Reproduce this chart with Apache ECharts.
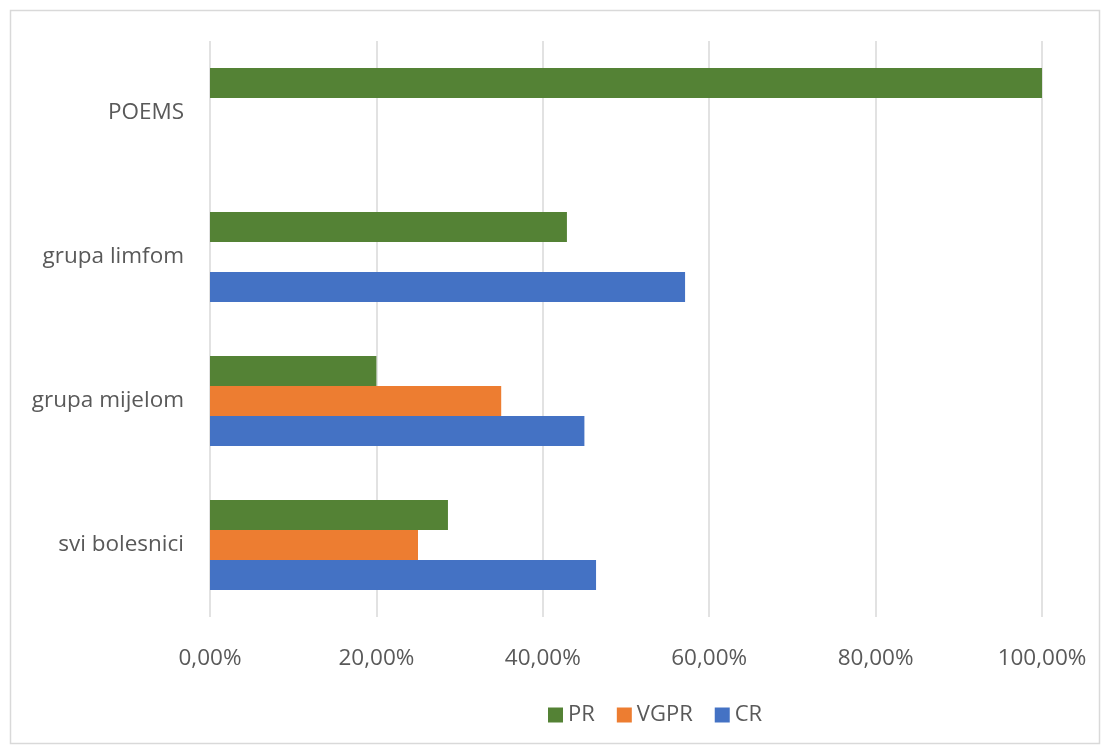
<!DOCTYPE html>
<html>
<head>
<meta charset="utf-8">
<script src="https://cdn.jsdelivr.net/npm/echarts@6/dist/echarts.min.js"></script>
<style>html,body{margin:0;padding:0;background:#fff;}#c{width:1105px;height:749px;}</style>
</head>
<body>
<div id="c"></div>
<script>
const categories = ['svi bolesnici', 'grupa mijelom', 'grupa limfom', 'POEMS'];
const seriesNames = ['PR', 'VGPR', 'CR'];
const prValues = [28.6, 20.0, 42.9, 100.0];
const vgprValues = [25.0, 35.0, null, null];
const crValues = [46.4, 45.0, 57.1, null];
const xTicks = [0, 20, 40, 60, 80, 100];

const chart = echarts.init(document.getElementById('c'));
const font = '"Open Sans", "Noto Sans", sans-serif';
const colors = { PR: '#548235', VGPR: '#ED7D31', CR: '#4472C4' };
const valuesBy = { PR: prValues, VGPR: vgprValues, CR: crValues };

chart.setOption({
  animation: false,
  textStyle: { fontFamily: font },
  graphic: [{
    type: 'rect', left: 8, top: 8,
    shape: { width: 1089, height: 733 },
    style: { fill: 'none', stroke: '#d9d9d9', lineWidth: 1.5 }
  }],
  grid: { left: 210, right: 63, top: 41, bottom: 132, containLabel: false },
  legend: {
    data: seriesNames,
    top: 699, left: 543,
    itemWidth: 15, itemHeight: 15, itemGap: 22,
    icon: 'rect',
    textStyle: { color: '#595959', fontSize: 22, fontFamily: font }
  },
  xAxis: {
    type: 'value', min: xTicks[0], max: xTicks[xTicks.length - 1], interval: 20,
    axisLine: { show: false }, axisTick: { show: false },
    splitLine: { lineStyle: { color: '#d9d9d9', width: 1.5 } },
    axisLabel: {
      color: '#595959', fontSize: 22.5, margin: 30,
      formatter: v => v.toFixed(2).replace('.', ',') + '%'
    }
  },
  yAxis: {
    type: 'category', data: categories,
    axisLine: { show: false }, axisTick: { show: false },
    axisLabel: { color: '#595959', fontSize: 22.5, margin: 26 }
  },
  series: seriesNames.map(n => ({
    name: n, type: 'bar', data: valuesBy[n],
    barWidth: 30, barGap: '0%',
    itemStyle: { color: colors[n] }
  }))
});
</script>
</body>
</html>
